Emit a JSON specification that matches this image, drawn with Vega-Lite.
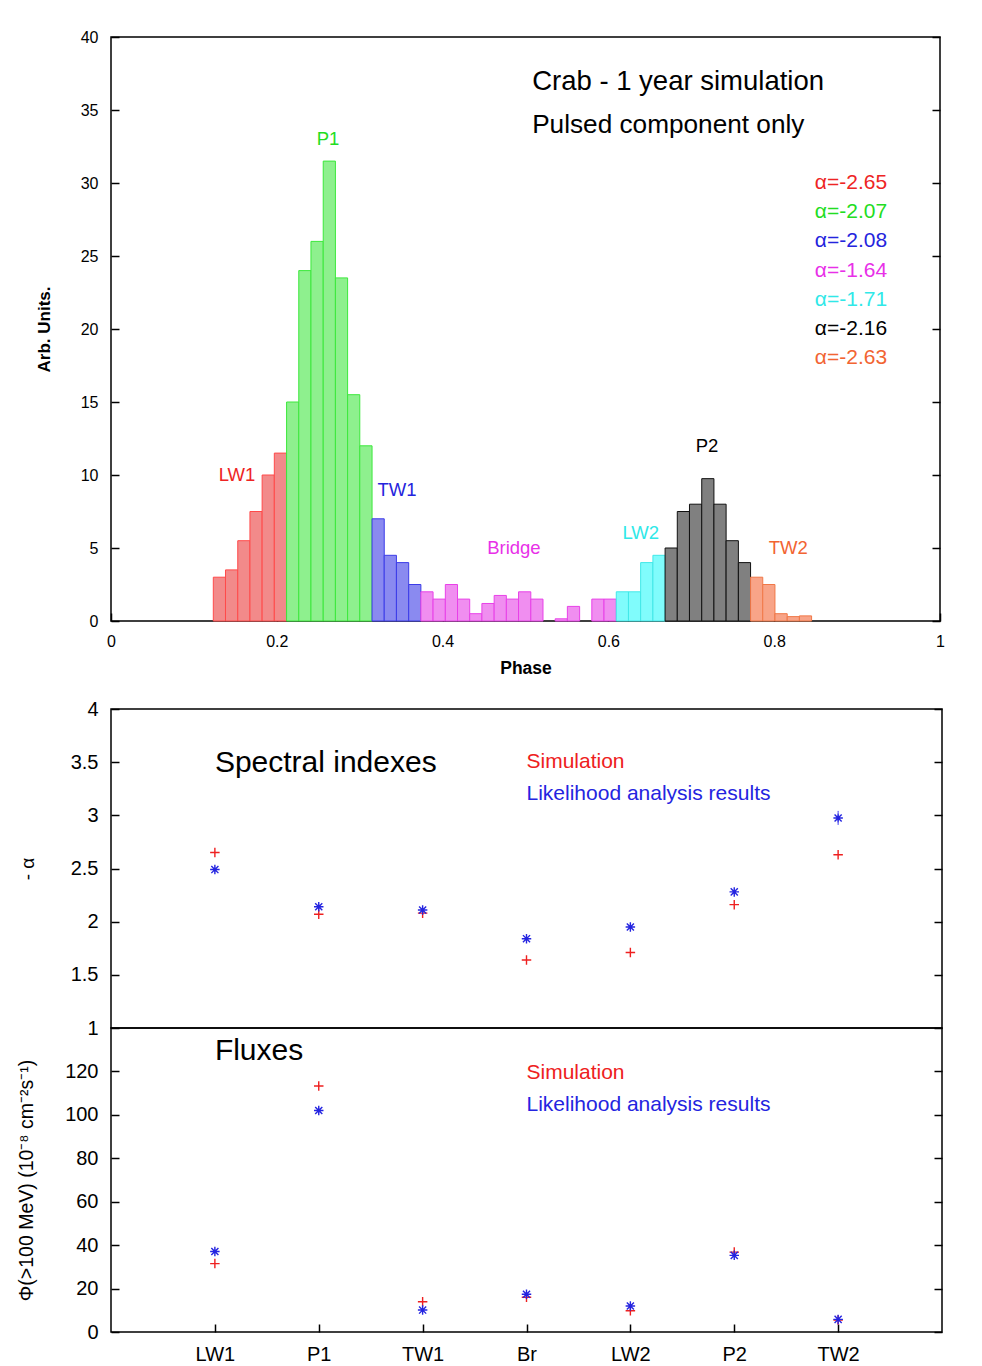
{
  "$schema": "https://vega.github.io/schema/vega-lite/v6.json",
  "background": "white",
  "padding": {"left": 15, "top": 28, "right": 10, "bottom": 5},
  "bounds": "flush",
  "spacing": 88,
  "resolve": {"scale": {"color": "independent"}},
  "datasets": {
    "bars": [
      {"x0": 0.1234, "x1": 0.1381, "v": 3.0, "g": "LW1"},
      {"x0": 0.1381, "x1": 0.1529, "v": 3.5, "g": "LW1"},
      {"x0": 0.1529, "x1": 0.1676, "v": 5.5, "g": "LW1"},
      {"x0": 0.1676, "x1": 0.1823, "v": 7.5, "g": "LW1"},
      {"x0": 0.1823, "x1": 0.1970, "v": 10.0, "g": "LW1"},
      {"x0": 0.1970, "x1": 0.2118, "v": 11.5, "g": "LW1"},
      {"x0": 0.2118, "x1": 0.2265, "v": 15.0, "g": "P1"},
      {"x0": 0.2265, "x1": 0.2412, "v": 24.0, "g": "P1"},
      {"x0": 0.2412, "x1": 0.2560, "v": 26.0, "g": "P1"},
      {"x0": 0.2560, "x1": 0.2707, "v": 31.5, "g": "P1"},
      {"x0": 0.2707, "x1": 0.2854, "v": 23.5, "g": "P1"},
      {"x0": 0.2854, "x1": 0.3001, "v": 15.5, "g": "P1"},
      {"x0": 0.3001, "x1": 0.3149, "v": 12.0, "g": "P1"},
      {"x0": 0.3149, "x1": 0.3296, "v": 7.0, "g": "TW1"},
      {"x0": 0.3296, "x1": 0.3443, "v": 4.5, "g": "TW1"},
      {"x0": 0.3443, "x1": 0.3591, "v": 4.0, "g": "TW1"},
      {"x0": 0.3591, "x1": 0.3738, "v": 2.5, "g": "TW1"},
      {"x0": 0.3738, "x1": 0.3885, "v": 2.0, "g": "Bridge"},
      {"x0": 0.3885, "x1": 0.4033, "v": 1.5, "g": "Bridge"},
      {"x0": 0.4033, "x1": 0.4180, "v": 2.5, "g": "Bridge"},
      {"x0": 0.4180, "x1": 0.4327, "v": 1.5, "g": "Bridge"},
      {"x0": 0.4327, "x1": 0.4474, "v": 0.5, "g": "Bridge"},
      {"x0": 0.4474, "x1": 0.4622, "v": 1.2, "g": "Bridge"},
      {"x0": 0.4622, "x1": 0.4769, "v": 1.75, "g": "Bridge"},
      {"x0": 0.4769, "x1": 0.4916, "v": 1.5, "g": "Bridge"},
      {"x0": 0.4916, "x1": 0.5064, "v": 2.0, "g": "Bridge"},
      {"x0": 0.5064, "x1": 0.5211, "v": 1.5, "g": "Bridge"},
      {"x0": 0.5358, "x1": 0.5505, "v": 0.15, "g": "Bridge"},
      {"x0": 0.5505, "x1": 0.5653, "v": 1.0, "g": "Bridge"},
      {"x0": 0.5800, "x1": 0.5947, "v": 1.5, "g": "Bridge"},
      {"x0": 0.5947, "x1": 0.6095, "v": 1.5, "g": "Bridge"},
      {"x0": 0.6095, "x1": 0.6242, "v": 2.0, "g": "LW2"},
      {"x0": 0.6242, "x1": 0.6389, "v": 2.0, "g": "LW2"},
      {"x0": 0.6389, "x1": 0.6537, "v": 4.0, "g": "LW2"},
      {"x0": 0.6537, "x1": 0.6684, "v": 4.5, "g": "LW2"},
      {"x0": 0.6684, "x1": 0.6831, "v": 5.0, "g": "P2"},
      {"x0": 0.6831, "x1": 0.6978, "v": 7.5, "g": "P2"},
      {"x0": 0.6978, "x1": 0.7126, "v": 8.0, "g": "P2"},
      {"x0": 0.7126, "x1": 0.7273, "v": 9.75, "g": "P2"},
      {"x0": 0.7273, "x1": 0.7420, "v": 8.0, "g": "P2"},
      {"x0": 0.7420, "x1": 0.7568, "v": 5.5, "g": "P2"},
      {"x0": 0.7568, "x1": 0.7715, "v": 4.0, "g": "P2"},
      {"x0": 0.7715, "x1": 0.7862, "v": 3.0, "g": "TW2"},
      {"x0": 0.7862, "x1": 0.8009, "v": 2.5, "g": "TW2"},
      {"x0": 0.8009, "x1": 0.8157, "v": 0.5, "g": "TW2"},
      {"x0": 0.8157, "x1": 0.8304, "v": 0.3, "g": "TW2"},
      {"x0": 0.8304, "x1": 0.8451, "v": 0.35, "g": "TW2"}
    ],
    "seglabels": [
      {"x": 0.152, "y": 10.0, "t": "LW1", "c": "LW1"},
      {"x": 0.2618, "y": 33.0, "t": "P1", "c": "P1"},
      {"x": 0.345, "y": 9.0, "t": "TW1", "c": "TW1"},
      {"x": 0.486, "y": 5.0, "t": "Bridge", "c": "Bridge"},
      {"x": 0.639, "y": 6.0, "t": "LW2", "c": "LW2"},
      {"x": 0.719, "y": 12.0, "t": "P2", "c": "P2"},
      {"x": 0.817, "y": 5.0, "t": "TW2", "c": "TW2"}
    ],
    "toptitles": [
      {"x": 0.508, "y": 36.9, "t": "Crab - 1 year simulation", "c": "k"},
      {"x": 0.508, "y": 34.0, "t": "Pulsed component only", "c": "k"}
    ],
    "alphas": [
      {"x": 0.849, "y": 30, "t": "α=-2.65", "c": "LW1"},
      {"x": 0.849, "y": 28, "t": "α=-2.07", "c": "P1"},
      {"x": 0.849, "y": 26, "t": "α=-2.08", "c": "TW1"},
      {"x": 0.849, "y": 24, "t": "α=-1.64", "c": "Bridge"},
      {"x": 0.849, "y": 22, "t": "α=-1.71", "c": "LW2"},
      {"x": 0.849, "y": 20, "t": "α=-2.16", "c": "P2"},
      {"x": 0.849, "y": 18, "t": "α=-2.63", "c": "TW2"}
    ],
    "idx": [
      {"k": 1, "src": "sim", "v": 2.65},
      {"k": 2, "src": "sim", "v": 2.07},
      {"k": 3, "src": "sim", "v": 2.08},
      {"k": 4, "src": "sim", "v": 1.64},
      {"k": 5, "src": "sim", "v": 1.71},
      {"k": 6, "src": "sim", "v": 2.16},
      {"k": 7, "src": "sim", "v": 2.63},
      {"k": 1, "src": "fit", "v": 2.49, "lo": 2.47, "hi": 2.51},
      {"k": 2, "src": "fit", "v": 2.14, "lo": 2.12, "hi": 2.16},
      {"k": 3, "src": "fit", "v": 2.11, "lo": 2.09, "hi": 2.13},
      {"k": 4, "src": "fit", "v": 1.84, "lo": 1.82, "hi": 1.86},
      {"k": 5, "src": "fit", "v": 1.95, "lo": 1.93, "hi": 1.97},
      {"k": 6, "src": "fit", "v": 2.28, "lo": 2.26, "hi": 2.30},
      {"k": 7, "src": "fit", "v": 2.975, "lo": 2.91, "hi": 3.05}
    ],
    "flux": [
      {"k": 1, "src": "sim", "v": 31.5},
      {"k": 2, "src": "sim", "v": 113.3},
      {"k": 3, "src": "sim", "v": 13.9},
      {"k": 4, "src": "sim", "v": 16.0},
      {"k": 5, "src": "sim", "v": 9.8},
      {"k": 6, "src": "sim", "v": 36.8},
      {"k": 7, "src": "sim", "v": 5.5},
      {"k": 1, "src": "fit", "v": 37.1},
      {"k": 2, "src": "fit", "v": 102.0},
      {"k": 3, "src": "fit", "v": 10.1},
      {"k": 4, "src": "fit", "v": 17.4},
      {"k": 5, "src": "fit", "v": 12.0},
      {"k": 6, "src": "fit", "v": 35.3},
      {"k": 7, "src": "fit", "v": 5.8}
    ],
    "midtext": [
      {"x": 1.0, "y": 3.49, "t": "Spectral indexes", "c": "k", "s": "big"},
      {"x": 4.0, "y": 3.50, "t": "Simulation", "c": "sim", "s": "small"},
      {"x": 4.0, "y": 3.20, "t": "Likelihood analysis results", "c": "fit", "s": "small"}
    ],
    "bottext": [
      {"x": 1.0, "y": 129.5, "t": "Fluxes", "c": "k", "s": "big"},
      {"x": 4.0, "y": 119.5, "t": "Simulation", "c": "sim", "s": "small"},
      {"x": 4.0, "y": 104.4, "t": "Likelihood analysis results", "c": "fit", "s": "small"}
    ]
  },
  "vconcat": [
    {
      "width": 829,
      "height": 584,
      "layer": [
        {
          "data": {"name": "bars"},
          "mark": {"type": "rect", "strokeWidth": 1},
          "encoding": {
            "x": {"field": "x0", "type": "quantitative",
                  "scale": {"domain": [0, 1], "nice": false, "zero": false},
                  "axis": {"orient": "bottom", "values": [0, 0.2, 0.4, 0.6, 0.8, 1], "format": "~g", "title": "Phase", "labelFlush": false,
                           "labelFontSize": 16, "titleFontSize": 17.5, "titleFontWeight": "bold", "labelPadding": 20, "titlePadding": 10}},
            "x2": {"field": "x1"},
            "y": {"field": "v", "type": "quantitative",
                  "scale": {"domain": [0, 40], "nice": false},
                  "axis": {"orient": "left", "values": [0, 5, 10, 15, 20, 25, 30, 35, 40], "title": "Arb. Units.",
                           "labelFontSize": 16, "titleFontSize": 17, "titleFontWeight": "bold", "labelPadding": 21, "titlePadding": 27}},
            "y2": {"datum": 0},
            "fill": {"field": "g", "type": "nominal", "legend": null,
                     "scale": {"domain": ["LW1", "P1", "TW1", "Bridge", "LW2", "P2", "TW2"],
                               "range": ["#f28a8a", "#8ef08e", "#8a8af0", "#f08ef0", "#80fcfc", "#808080", "#f8a488"]}},
            "stroke": {"field": "g", "type": "nominal", "legend": null,
                       "scale": {"domain": ["LW1", "P1", "TW1", "Bridge", "LW2", "P2", "TW2"],
                                 "range": ["#ff4a4a", "#3ce83c", "#3c3ce8", "#e840e8", "#40e8e8", "#111111", "#f07848"]}},
            "strokeDash": {"field": "g", "type": "nominal", "legend": null,
                           "scale": {"domain": ["LW1", "P1", "TW1", "Bridge", "LW2", "P2", "TW2"],
                                     "range": [[1, 0], [4, 2], [4, 2], [2, 2], [4, 2], [3, 2], [2, 2]]}}
          }
        },
        {
          "data": {"name": "seglabels"},
          "mark": {"type": "text", "fontSize": 18.5, "align": "center", "baseline": "middle"},
          "encoding": {
            "x": {"field": "x", "type": "quantitative"},
            "y": {"field": "y", "type": "quantitative",
                  "axis": {"orient": "right", "labels": false, "title": null, "values": [0, 5, 10, 15, 20, 25, 30, 35, 40]}},
            "text": {"field": "t"},
            "color": {"field": "c", "type": "nominal", "legend": null,
                      "scale": {"domain": ["LW1", "P1", "TW1", "Bridge", "LW2", "P2", "TW2", "k"],
                                "range": ["#ee2424", "#22dd22", "#2424dd", "#e830e8", "#30e8e8", "#000000", "#f26432", "#000000"]}}
          }
        },
        {
          "data": {"name": "toptitles"},
          "transform": [{"filter": "datum.t === 'Crab - 1 year simulation'"}],
          "mark": {"type": "text", "fontSize": 27.5, "align": "left", "baseline": "middle"},
          "encoding": {
            "x": {"field": "x", "type": "quantitative"},
            "y": {"field": "y", "type": "quantitative", "axis": null},
            "text": {"field": "t"},
            "color": {"field": "c", "type": "nominal", "legend": null}
          }
        },
        {
          "data": {"name": "toptitles"},
          "transform": [{"filter": "datum.t !== 'Crab - 1 year simulation'"}],
          "mark": {"type": "text", "fontSize": 26.2, "align": "left", "baseline": "middle"},
          "encoding": {
            "x": {"field": "x", "type": "quantitative"},
            "y": {"field": "y", "type": "quantitative", "axis": null},
            "text": {"field": "t"},
            "color": {"field": "c", "type": "nominal", "legend": null}
          }
        },
        {
          "data": {"name": "alphas"},
          "mark": {"type": "text", "fontSize": 21, "align": "left", "baseline": "middle"},
          "encoding": {
            "x": {"field": "x", "type": "quantitative"},
            "y": {"field": "y", "type": "quantitative", "axis": null},
            "text": {"field": "t"},
            "color": {"field": "c", "type": "nominal", "legend": null}
          }
        }
      ],
      "resolve": {"axis": {"y": "independent"}}
    },
    {
      "bounds": "flush",
      "spacing": 0,
      "vconcat": [
        {
          "width": 831,
          "height": 319,
          "layer": [
            {
              "data": {"name": "idx"},
              "transform": [{"filter": "datum.src === 'fit'"}],
              "mark": {"type": "rule", "strokeDash": [2, 2], "strokeWidth": 1, "color": "#3a3aee"},
              "encoding": {
                "x": {"field": "k", "type": "quantitative", "scale": {"domain": [0, 8], "nice": false, "zero": false}, "axis": null},
                "y": {"field": "lo", "type": "quantitative", "scale": {"domain": [1, 4], "nice": false, "zero": false},
                      "axis": {"orient": "left", "values": [1, 1.5, 2, 2.5, 3, 3.5, 4], "format": "~g", "title": "- α",
                               "labelFontSize": 20, "titleFontSize": 19, "titleFontWeight": "normal", "labelPadding": 21, "titlePadding": 33}},
                "y2": {"field": "hi"}
              }
            },
            {
              "data": {"name": "idx"},
              "mark": {"type": "point", "filled": false, "size": 90, "strokeWidth": 1.4, "opacity": 1},
              "encoding": {
                "x": {"field": "k", "type": "quantitative", "axis": null},
                "y": {"field": "v", "type": "quantitative", "axis": null},
                "shape": {"field": "src", "type": "nominal", "legend": null,
                          "scale": {"domain": ["sim", "fit"], "range": ["M-1,0L1,0M0,-1L0,1", "M-1,0L1,0M0,-1L0,1M-0.75,-0.75L0.75,0.75M-0.75,0.75L0.75,-0.75"]}},
                "color": {"field": "src", "type": "nominal", "legend": null,
                          "scale": {"domain": ["sim", "fit", "k"], "range": ["#ee2020", "#2424e0", "#000000"]}}
              }
            },
            {
              "data": {"name": "midtext"},
              "transform": [{"filter": "datum.s === 'big'"}],
              "mark": {"type": "text", "fontSize": 30, "align": "left", "baseline": "middle"},
              "encoding": {
                "x": {"field": "x", "type": "quantitative", "axis": null},
                "y": {"field": "y", "type": "quantitative",
                      "axis": {"orient": "right", "labels": false, "title": null, "values": [1, 1.5, 2, 2.5, 3, 3.5, 4]}},
                "text": {"field": "t"},
                "color": {"field": "c", "type": "nominal", "legend": null}
              }
            },
            {
              "data": {"name": "midtext"},
              "transform": [{"filter": "datum.s === 'small'"}],
              "mark": {"type": "text", "fontSize": 21, "align": "left", "baseline": "middle"},
              "encoding": {
                "x": {"field": "x", "type": "quantitative", "axis": null},
                "y": {"field": "y", "type": "quantitative", "axis": null},
                "text": {"field": "t"},
                "color": {"field": "c", "type": "nominal", "legend": null}
              }
            }
          ],
          "resolve": {"axis": {"y": "independent"}}
        },
        {
          "width": 831,
          "height": 304,
          "layer": [
            {
              "data": {"name": "flux"},
              "mark": {"type": "point", "filled": false, "size": 90, "strokeWidth": 1.4, "opacity": 1},
              "encoding": {
                "x": {"field": "k", "type": "quantitative", "scale": {"domain": [0, 8], "nice": false, "zero": false},
                      "axis": {"orient": "bottom", "values": [1, 2, 3, 4, 5, 6, 7], "title": null, "labelFontSize": 20, "labelPadding": 20,
                               "labelExpr": "['','LW1','P1','TW1','Br','LW2','P2','TW2'][datum.value]"}},
                "y": {"field": "v", "type": "quantitative", "scale": {"domain": [0, 140], "nice": false},
                      "axis": {"orient": "left", "values": [0, 20, 40, 60, 80, 100, 120], "title": "Φ(>100 MeV) (10⁻⁸ cm⁻²s⁻¹)",
                               "labelFontSize": 20, "titleFontSize": 19.5, "titleFontWeight": "normal", "labelPadding": 21, "titlePadding": 28}},
                "shape": {"field": "src", "type": "nominal", "legend": null,
                          "scale": {"domain": ["sim", "fit"], "range": ["M-1,0L1,0M0,-1L0,1", "M-1,0L1,0M0,-1L0,1M-0.75,-0.75L0.75,0.75M-0.75,0.75L0.75,-0.75"]}},
                "color": {"field": "src", "type": "nominal", "legend": null,
                          "scale": {"domain": ["sim", "fit", "k"], "range": ["#ee2020", "#2424e0", "#000000"]}}
              }
            },
            {
              "data": {"name": "bottext"},
              "transform": [{"filter": "datum.s === 'big'"}],
              "mark": {"type": "text", "fontSize": 30, "align": "left", "baseline": "middle"},
              "encoding": {
                "x": {"field": "x", "type": "quantitative"},
                "y": {"field": "y", "type": "quantitative",
                      "axis": {"orient": "right", "labels": false, "title": null, "values": [0, 20, 40, 60, 80, 100, 120]}},
                "text": {"field": "t"},
                "color": {"field": "c", "type": "nominal", "legend": null}
              }
            },
            {
              "data": {"name": "bottext"},
              "transform": [{"filter": "datum.s === 'small'"}],
              "mark": {"type": "text", "fontSize": 21, "align": "left", "baseline": "middle"},
              "encoding": {
                "x": {"field": "x", "type": "quantitative"},
                "y": {"field": "y", "type": "quantitative", "axis": null},
                "text": {"field": "t"},
                "color": {"field": "c", "type": "nominal", "legend": null}
              }
            }
          ],
          "resolve": {"axis": {"y": "independent"}}
        }
      ]
    }
  ],
  "config": {
    "font": "Liberation Sans",
    "view": {"stroke": "#000000", "strokeWidth": 1.5},
    "axis": {"domain": false, "grid": false, "ticks": true, "tickColor": "#000000", "tickWidth": 1.5, "tickSize": -8,
             "labelColor": "#000000", "titleColor": "#000000", "labelFont": "Liberation Sans", "titleFont": "Liberation Sans"},
    "legend": {"disable": true}
  }
}
